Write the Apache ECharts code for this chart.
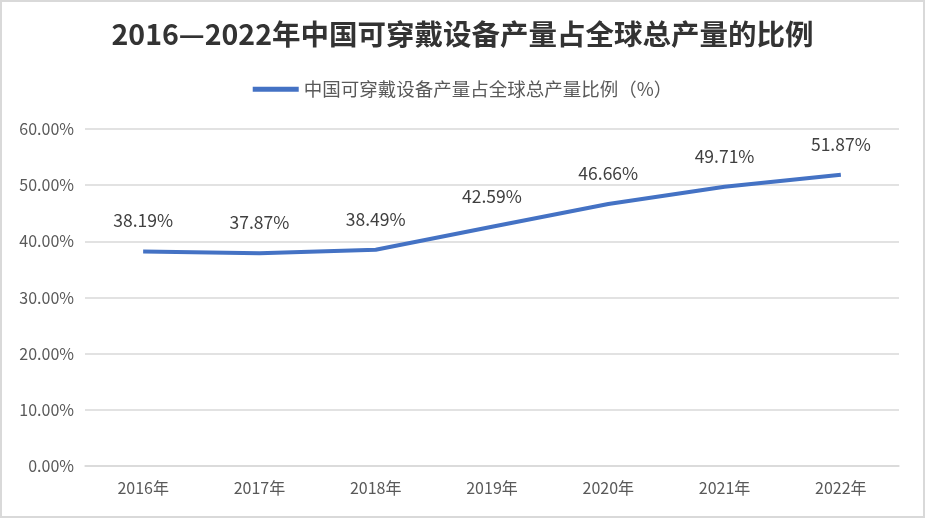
<!DOCTYPE html>
<html><head><meta charset="utf-8">
<script src="https://cdn.jsdelivr.net/npm/echarts@6/dist/echarts.min.js"></script>
<style>html,body{margin:0;padding:0;background:#fff}#c{width:925px;height:518px;box-sizing:border-box;border:2px solid #d9d9d9}</style>
</head><body><div id="c"></div>
<script>
const categories = ['2016年','2017年','2018年','2019年','2020年','2021年','2022年'];
const values = [38.19, 37.87, 38.49, 42.59, 46.66, 49.71, 51.87];
const seriesName = '中国可穿戴设备产量占全球总产量比例（%）';
const titleText = '2016—2022年中国可穿戴设备产量占全球总产量的比例';
const chart = echarts.init(document.getElementById('c'), null, {renderer:'canvas'});
const font = '"Noto Sans CJK SC", "Open Sans", sans-serif';
chart.setOption({
  animation:false,
  title:{text:titleText,left:'center',top:13,textStyle:{fontFamily:font,fontSize:28.5,fontWeight:'bold',color:'#333'}},
  legend:{top:73,left:'center',itemWidth:46,itemHeight:5,icon:'rect',itemGap:4,
    textStyle:{fontFamily:font,fontSize:18.5,color:'#595959'},data:[seriesName]},
  grid:{left:83,right:24,top:127,bottom:50},
  xAxis:{type:'category',data:categories,boundaryGap:true,
    axisLine:{lineStyle:{color:'#d9d9d9',width:1.5}},axisTick:{show:false},
    axisLabel:{fontFamily:font,fontSize:16,color:'#595959',margin:14}},
  yAxis:{type:'value',min:0,max:60,interval:10,
    axisLine:{show:false},axisTick:{show:false},
    splitLine:{lineStyle:{color:'#d9d9d9',width:1.5}},
    axisLabel:{fontFamily:font,fontSize:16,color:'#595959',margin:11,formatter:v=>v.toFixed(2)+'%'}},
  series:[{name:seriesName,type:'line',data:values,symbol:'circle',symbolSize:0.1,showSymbol:true,
    lineStyle:{color:'#4472c4',width:4},itemStyle:{color:'#4472c4'},
    label:{show:true,position:'top',distance:22,fontFamily:font,fontSize:17.5,color:'#404040',formatter:p=>p.value.toFixed(2)+'%'}}]
});
</script></body></html>
